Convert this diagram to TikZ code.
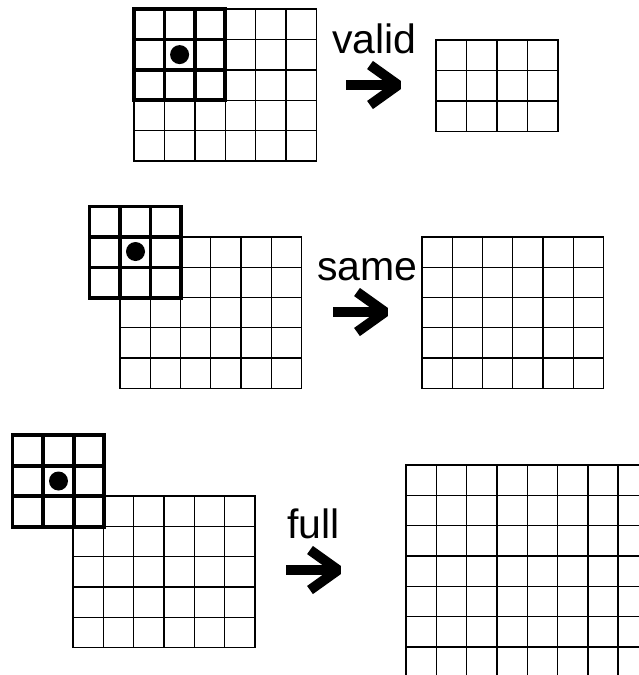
\documentclass[tikz,border=0pt]{standalone}
\usepackage{fontspec}
\setmainfont{Liberation Sans}
\newcommand\cellgrid[6]{%
  \draw[#6] (#1,#2) rectangle ({#1+#3*#5},{#2+#4*#5});
  \foreach \i in {1,...,\numexpr#3-1\relax}
    \draw[#6] ({#1+\i*#5},#2) -- ({#1+\i*#5},{#2+#4*#5});
  \foreach \j in {1,...,\numexpr#4-1\relax}
    \draw[#6] (#1,{#2+\j*#5}) -- ({#1+#3*#5},{#2+\j*#5});
}
\tikzset{
  thingrid/.style={line width=1.4pt, black},
  kernelgrid/.style={line width=3.8pt, black},
  modelabel/.style={inner sep=0pt, anchor=base west, font=\fontsize{41}{41}\selectfont},
  bigarrow/.style={line width=10pt, black},
  pics/fatarrow/.style={code={
    \draw[bigarrow, line cap=butt] (-57,0) -- (-8,0);
    \draw[bigarrow, line cap=butt, line join=bevel] (-33,-20) -- (-5,0) -- (-33,20);
  }}
}
\begin{document}
\begin{tikzpicture}[x=1pt,y=-1pt]
\useasboundingbox (0,0) rectangle (639,675);
\begin{scope}
\clip (0,0) rectangle (639,675);
% ---- valid ----
\cellgrid{134}{9}{6}{5}{30.4}{thingrid}
\cellgrid{134}{9}{3}{3}{30.4}{kernelgrid}
\fill (179.6,54.6) circle (9.5);
\node[modelabel] (valid) at (332,53) {valid};
\pic at (403,85) {fatarrow};
\cellgrid{436}{40}{4}{3}{30.5}{thingrid}
% ---- same ----
\cellgrid{120}{237}{6}{5}{30.25}{thingrid}
\cellgrid{89.5}{206.5}{3}{3}{30.5}{kernelgrid}
\fill (135.5,251.5) circle (9.5);
\node[modelabel] (same) at (317,280) {same};
\pic at (390,312) {fatarrow};
\cellgrid{422}{237}{6}{5}{30.25}{thingrid}
% ---- full ----
\cellgrid{73}{496}{6}{5}{30.3}{thingrid}
\cellgrid{12.5}{435}{3}{3}{30.6}{kernelgrid}
\fill (58.5,481) circle (9.5);
\node[modelabel] (full) at (287,538) {full};
\pic at (343,570) {fatarrow};
\cellgrid{406}{465}{8}{7}{30.3}{thingrid}
\end{scope}
\end{tikzpicture}
\end{document}
